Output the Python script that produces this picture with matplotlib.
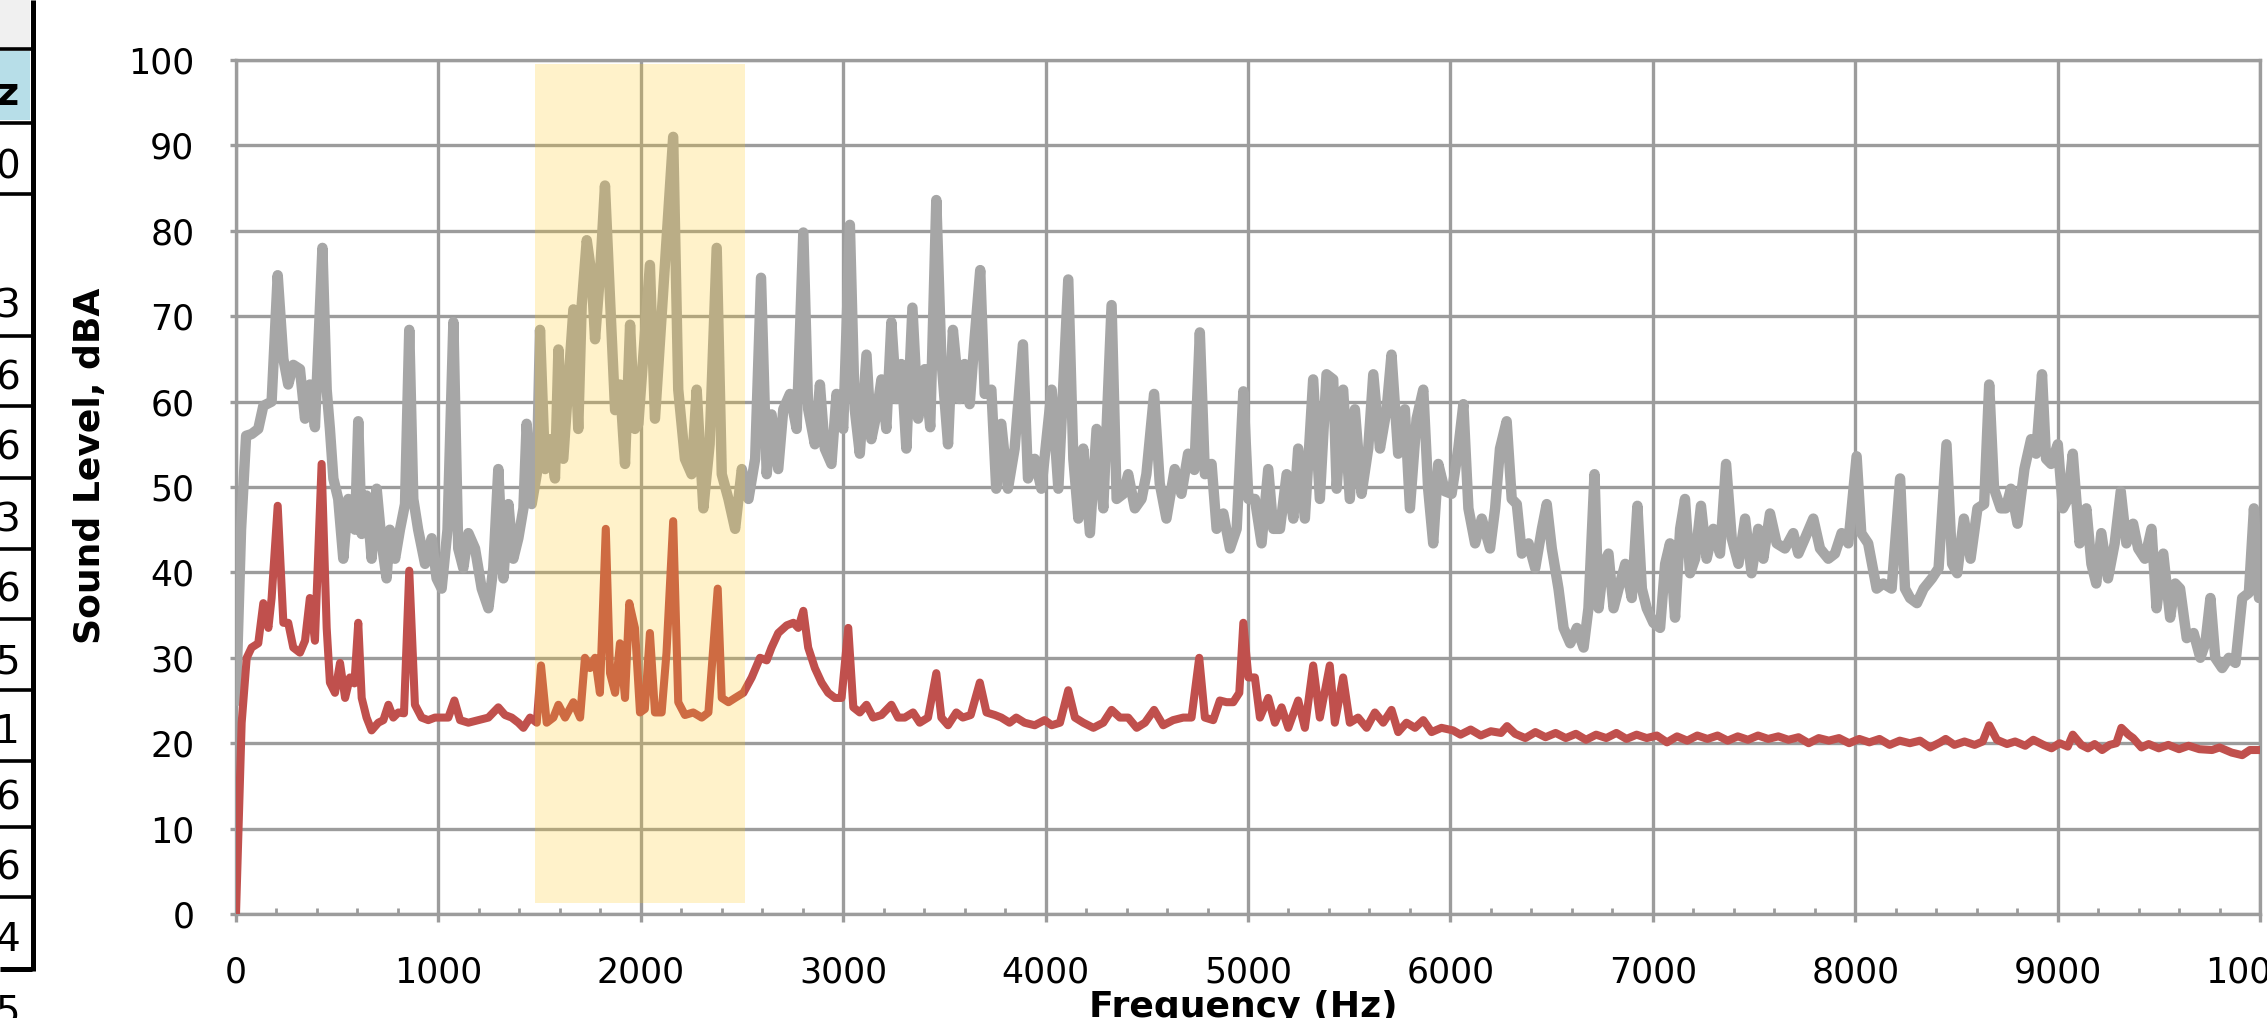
import matplotlib
matplotlib.use("Agg")
import matplotlib.pyplot as plt
from matplotlib.patches import Rectangle

# ---------------- data ----------------
gray_hz = [0, 25, 50, 77, 110, 135, 176, 206, 234, 258, 283, 316, 341, 365, 390, 427, 448, 464, 481, 505,
           530, 555, 588, 604, 621, 645, 670, 695, 720, 744, 760, 786, 810, 835, 856, 876, 900, 934, 967, 991,
           1016, 1045, 1074, 1098, 1123, 1148, 1181, 1214, 1247, 1271, 1296, 1321, 1346, 1370, 1395, 1420, 1436, 1461, 1486, 1502,
           1527, 1551, 1576, 1593, 1617, 1642, 1667, 1691, 1708, 1733, 1757, 1774, 1798, 1823, 1848, 1873, 1897, 1922, 1947, 1971,
           1988, 2045, 2070, 2111, 2160, 2185, 2218, 2251, 2276, 2309, 2340, 2375, 2400, 2433, 2466, 2499, 2532, 2565, 2594, 2622,
           2646, 2679, 2704, 2737, 2770, 2803, 2827, 2860, 2885, 2909, 2942, 2967, 3000, 3033, 3057, 3082, 3115, 3139, 3164, 3189,
           3213, 3238, 3263, 3287, 3312, 3342, 3370, 3403, 3430, 3460, 3485, 3518, 3542, 3575, 3600, 3625, 3649, 3677, 3699, 3732,
           3756, 3781, 3814, 3847, 3888, 3913, 3946, 3979, 4030, 4063, 4112, 4137, 4162, 4186, 4219, 4252, 4285, 4326, 4351, 4384,
           4408, 4441, 4474, 4498, 4536, 4564, 4597, 4638, 4671, 4704, 4735, 4762, 4787, 4820, 4845, 4878, 4911, 4944, 4977, 5002,
           5034, 5067, 5100, 5125, 5158, 5191, 5224, 5248, 5281, 5322, 5355, 5388, 5421, 5438, 5470, 5503, 5528, 5561, 5594, 5619,
           5652, 5685, 5709, 5742, 5775, 5800, 5833, 5866, 5890, 5915, 5940, 5973, 6006, 6039, 6064, 6089, 6122, 6155, 6196, 6221,
           6245, 6278, 6303, 6328, 6353, 6386, 6419, 6452, 6476, 6501, 6534, 6559, 6592, 6625, 6658, 6682, 6712, 6732, 6757, 6781,
           6806, 6831, 6864, 6896, 6924, 6946, 6970, 7003, 7036, 7061, 7085, 7110, 7135, 7159, 7184, 7209, 7238, 7266, 7299, 7332,
           7362, 7390, 7423, 7456, 7488, 7521, 7546, 7579, 7612, 7653, 7694, 7719, 7752, 7793, 7826, 7867, 7900, 7933, 7966, 8007,
           8030, 8064, 8106, 8139, 8180, 8222, 8246, 8271, 8305, 8338, 8379, 8412, 8451, 8479, 8504, 8537, 8570, 8604, 8637, 8662,
           8686, 8719, 8744, 8769, 8802, 8836, 8869, 8894, 8923, 8943, 8968, 9001, 9026, 9051, 9075, 9109, 9142, 9167, 9191, 9216,
           9249, 9282, 9312, 9340, 9373, 9398, 9431, 9464, 9489, 9522, 9556, 9581, 9605, 9638, 9672, 9705, 9730, 9755, 9779, 9813,
           9846, 9879, 9912, 9945, 9970, 9995, 10000]
gray_db = [25, 45, 56, 56.2, 56.8, 59.5, 60, 74.8, 65, 62, 64.3, 63.8, 58, 62, 57, 78, 61.4, 56.8, 51, 48.6,
           41.6, 48.6, 45, 57.7, 44.5, 49, 41.6, 49.8, 43.4, 39.3, 45, 41.6, 45, 48, 68.4, 48.6, 45, 41, 44, 39.3,
           38.1, 45, 69.3, 42.8, 40.5, 44.6, 42.8, 38.1, 35.8, 40.5, 52.1, 39.3, 48, 41.6, 44, 47.5, 57.4, 48, 51.5, 68.4,
           52.1, 55.6, 51, 66.1, 53.3, 62, 70.8, 56.8, 71.3, 78.9, 74.8, 67.3, 74.8, 85.3, 72, 59, 62, 52.7, 69, 56.8,
           57.4, 76, 58, 73, 91, 61.4, 53.3, 51.5, 61.4, 47.5, 55, 78, 51.5, 48.6, 45.1, 52.1, 48.6, 53.3, 74.5, 51.5,
           58.5, 52.1, 59.1, 60.9, 56.8, 79.8, 59.1, 55, 62, 54.5, 52.7, 60.9, 56.8, 80.7, 59.1, 53.9, 65.5, 55.6, 58.5, 62.6,
           56.8, 69.3, 60.3, 64.4, 54.5, 71, 58, 63.8, 57, 83.6, 65, 55, 68.4, 60.3, 64.4, 59.7, 67.3, 75.4, 60.9, 61.4,
           49.8, 57.4, 49.8, 54.5, 66.7, 51, 53.3, 49.8, 61.4, 49.8, 74.3, 53.3, 46.3, 54.5, 44.6, 56.8, 47.5, 71.3, 48.6, 49.2,
           51.5, 47.5, 48.6, 51.5, 60.9, 50.4, 46.3, 52.1, 49.2, 53.9, 52, 68.1, 51.5, 52.7, 45.1, 46.9, 42.8, 45.1, 61.2, 48.6,
           48.6, 43.4, 52.1, 45.1, 45.1, 51.5, 46.3, 54.5, 46.3, 62.6, 48.6, 63.2, 62.6, 49.8, 61.4, 48.6, 59.1, 49.2, 54.5, 63.2,
           54.5, 59.1, 65.5, 53.9, 59.1, 47.5, 58, 61.4, 49.8, 43.4, 52.7, 49.5, 49.2, 54.5, 59.7, 47.5, 43.4, 46.3, 42.8, 47.5,
           54.5, 57.7, 48.6, 48, 42.2, 43.4, 40.5, 45.1, 48, 42.8, 38.1, 33.5, 31.7, 33.5, 31.2, 35.8, 51.5, 35.8, 41, 42.2,
           35.8, 38.1, 41, 37, 47.8, 38.1, 35.8, 34.1, 33.5, 41, 43.4, 34.7, 45.1, 48.6, 39.9, 41.6, 47.8, 41.6, 45.1, 42.2,
           52.7, 44, 41, 46.3, 39.9, 45.1, 41.6, 46.9, 43.4, 42.8, 44.6, 42.2, 44, 46.3, 42.8, 41.6, 42.2, 44.6, 43.4, 53.6,
           44.6, 43.4, 38.1, 38.7, 38.1, 51, 38.1, 37, 36.4, 38.1, 39.3, 40.5, 55, 41, 39.9, 46.3, 41.6, 47.5, 48, 62,
           49.8, 47.5, 47.5, 49.8, 45.7, 52.1, 55.6, 53.9, 63.2, 53.3, 52.7, 55, 47.5, 48.6, 53.9, 43.4, 47.5, 41, 38.7, 44.6,
           39.3, 43.4, 49.5, 43.4, 45.7, 42.8, 41.6, 45.1, 35.8, 42.2, 34.7, 38.7, 38.1, 32.3, 32.9, 30, 31.7, 37, 30, 28.8,
           30, 29.4, 37, 37.6, 47.5, 37, 37]

red_hz = [0, 28, 53, 77, 110, 135, 160, 176, 206, 234, 258, 283, 316, 341, 365, 390, 423, 448, 464, 489,
          514, 539, 563, 585, 604, 621, 645, 670, 703, 728, 753, 777, 802, 830, 856, 884, 917, 950, 983, 1016,
          1049, 1079, 1107, 1148, 1197, 1247, 1296, 1329, 1362, 1395, 1420, 1453, 1486, 1507, 1535, 1568, 1593, 1626, 1667, 1700,
          1724, 1749, 1774, 1798, 1827, 1848, 1873, 1897, 1922, 1943, 1971, 1996, 2020, 2045, 2070, 2103, 2127, 2160, 2185, 2218,
          2259, 2301, 2334, 2380, 2400, 2433, 2466, 2507, 2548, 2589, 2622, 2646, 2679, 2721, 2754, 2778, 2803, 2827, 2860, 2893,
          2926, 2959, 2992, 3025, 3050, 3082, 3115, 3148, 3189, 3238, 3271, 3304, 3345, 3378, 3419, 3460, 3485, 3518, 3559, 3591,
          3630, 3675, 3708, 3749, 3781, 3822, 3855, 3896, 3946, 3995, 4030, 4071, 4112, 4145, 4186, 4236, 4285, 4326, 4367, 4408,
          4450, 4491, 4536, 4581, 4630, 4680, 4721, 4759, 4787, 4828, 4861, 4894, 4927, 4957, 4977, 5002, 5034, 5059, 5100, 5133,
          5166, 5199, 5248, 5281, 5322, 5355, 5404, 5429, 5470, 5503, 5544, 5586, 5627, 5668, 5709, 5742, 5783, 5825, 5866, 5907,
          5956, 6013, 6050, 6100, 6150, 6200, 6250, 6280, 6320, 6370, 6420, 6470, 6520, 6570, 6620, 6670, 6720, 6770, 6820, 6870,
          6920, 6970, 7020, 7070, 7120, 7170, 7220, 7270, 7320, 7370, 7420, 7470, 7520, 7570, 7620, 7670, 7720, 7770, 7820, 7870,
          7920, 7970, 8020, 8070, 8120, 8170, 8220, 8270, 8320, 8370, 8420, 8447, 8490, 8540, 8590, 8630, 8662, 8700, 8750, 8790,
          8840, 8880, 8930, 8970, 9010, 9050, 9075, 9117, 9150, 9183, 9220, 9257, 9290, 9315, 9350, 9373, 9414, 9450, 9500, 9547,
          9600, 9647, 9700, 9763, 9800, 9860, 9912, 9950, 10000]
red_db = [0, 22.4, 30, 31.2, 31.7, 36.4, 33.5, 37, 47.8, 34.1, 34.1, 31.2, 30.6, 32, 37, 32, 52.7, 33.5, 27.1, 25.9,
          29.4, 25.3, 27.7, 27, 34.1, 25.3, 23, 21.5, 22.4, 22.7, 24.5, 23, 23.6, 23.5, 40.2, 24.5, 23, 22.7, 23, 23,
          23, 25, 22.7, 22.4, 22.7, 23, 24.2, 23.3, 23, 22.4, 21.8, 23, 22.4, 29.1, 22.4, 23, 24.5, 23, 24.8, 23,
          30, 28.8, 30, 25.9, 45.1, 28.2, 25.9, 31.7, 25.3, 36.4, 33.5, 23.6, 24, 32.9, 23.6, 23.6, 30.6, 46, 24.8, 23.3,
          23.6, 23, 23.6, 38.1, 25.3, 24.8, 25.3, 25.9, 27.7, 30, 29.7, 31.2, 32.9, 33.8, 34.1, 33.5, 35.5, 31.2, 28.8, 27.1,
          25.9, 25.3, 25.3, 33.5, 24.2, 23.6, 24.5, 23, 23.3, 24.5, 23, 23, 23.6, 22.4, 23, 28.2, 23, 22.1, 23.6, 23,
          23.3, 27.1, 23.6, 23.3, 23, 22.4, 23, 22.4, 22.1, 22.7, 22.1, 22.4, 26.2, 23, 22.4, 21.8, 22.4, 23.9, 23, 23,
          21.8, 22.4, 23.9, 22.1, 22.7, 23, 23, 30, 23, 22.7, 25, 24.8, 24.8, 25.9, 34.1, 27.7, 27.7, 23, 25.3, 22.4,
          24.2, 21.8, 25, 21.8, 29.1, 23, 29.1, 22.4, 27.7, 22.4, 23, 21.8, 23.6, 22.4, 23.9, 21.3, 22.4, 21.8, 22.7, 21.3,
          21.8, 21.5, 21.0, 21.6, 20.9, 21.4, 21.2, 22.0, 21.1, 20.6, 21.3, 20.7, 21.2, 20.6, 21.1, 20.4, 21.0, 20.6, 21.2, 20.5,
          21.0, 20.6, 20.9, 20.1, 20.8, 20.3, 20.9, 20.5, 20.9, 20.3, 20.8, 20.4, 20.9, 20.5, 20.8, 20.4, 20.7, 20.0, 20.6, 20.3,
          20.6, 20.0, 20.5, 20.1, 20.5, 19.8, 20.3, 20.0, 20.3, 19.5, 20.1, 20.5, 19.8, 20.2, 19.8, 20.2, 22.1, 20.4, 19.9, 20.2,
          19.7, 20.4, 19.8, 19.4, 20.0, 19.6, 21.0, 19.8, 19.4, 19.9, 19.2, 19.8, 20.0, 21.8, 21.0, 20.6, 19.5, 19.9, 19.4, 19.8,
          19.3, 19.7, 19.3, 19.2, 19.5, 18.9, 18.6, 19.2, 19.2]

highlight_hz = [1478, 2515]      # shaded band
highlight_db = [1.3, 99.5]

x_ticks = list(range(0, 10001, 1000))
x_labels = [str(v) for v in x_ticks]
y_ticks = list(range(0, 101, 10))
y_labels = [str(v) for v in y_ticks]

# partial spreadsheet column visible at the left edge
table_rows = [(51, 120), (125, 193), (196, 333), (338, 404), (408, 475), (480, 546), (551, 617),
              (621, 688), (692, 758), (763, 825), (829, 895), (899, 966), (971, 1040)]
table_text = ["Hz", "0", "3", "6", "6", "3", "6", "5", "1", "6", "6", "4", "5"]

W, H = 2267, 1018
GRAY = "#A6A6A6"
RED = "#C0504D"
GRID = "#9C9C9C"

fig = plt.figure(figsize=(W / 100, H / 100), dpi=100)
fig.patch.set_facecolor("white")

# ----- background overlay axes (pixel coordinates) for the table remnant -----
bg = fig.add_axes([0, 0, 1, 1])
bg.set_xlim(0, W)
bg.set_ylim(H, 0)
bg.axis("off")
bg.add_patch(Rectangle((0, 0), 30, 47, facecolor="#F0F0F0", edgecolor="none"))
bg.add_patch(Rectangle((0, 51), 30, 69, facecolor="#B7DEE8", edgecolor="none"))
for (top, bot) in table_rows[:-1]:
    bg.plot([0, 32], [top - 2, top - 2], color="black", lw=2.6, solid_capstyle="butt")
bg.plot([0, 32], [968.5, 968.5], color="black", lw=3.6, solid_capstyle="butt")
bg.plot([32.5, 32.5], [0, 971], color="black", lw=3.6, solid_capstyle="butt")
for (top, bot), t in zip(table_rows, table_text):
    base = bot - 15 if bot < 1000 else 1024
    bg.text(20, base, t, ha="right", va="baseline", fontsize=28,
            family="DejaVu Sans", color="black",
            fontweight="bold" if t == "Hz" else "normal")

# ----- main chart -----
ax = fig.add_axes([236 / W, (H - 914) / H, (2260 - 236) / W, (914 - 60) / H])
ax.set_facecolor("none")
ax.set_xlim(0, 10000)
ax.set_ylim(0, 100)

ax.plot(gray_hz, gray_db, color=GRAY, lw=7.5, solid_joinstyle="round", zorder=3)
ax.plot(red_hz, red_db, color=RED, lw=5.8, solid_joinstyle="round", zorder=4)

ax.add_patch(Rectangle((highlight_hz[0], highlight_db[0]),
                       highlight_hz[1] - highlight_hz[0], highlight_db[1] - highlight_db[0],
                       facecolor=(1.0, 0.784, 0.118), alpha=0.23, edgecolor="none", zorder=6))

ax.set_xticks(x_ticks)
ax.set_xticklabels(x_labels)
ax.set_yticks(y_ticks)
ax.set_yticklabels(y_labels)
ax.set_xticks(list(range(0, 10001, 200)), minor=True)

ax.grid(True, which="major", color=GRID, lw=2.4, zorder=1)
ax.set_axisbelow(True)
for s in ax.spines.values():
    s.set_color(GRID)
    s.set_linewidth(2.4)

ax.tick_params(axis="x", which="major", direction="out", length=6, width=2.4, color=GRID,
               pad=24, labelsize=25)
ax.tick_params(axis="x", which="minor", direction="in", length=4, width=2.0, color=GRID)
ax.tick_params(axis="y", which="major", direction="out", length=4, width=2.4, color=GRID,
               pad=26, labelsize=25)
for lab in ax.get_xticklabels() + ax.get_yticklabels():
    lab.set_family("DejaVu Sans")
    lab.set_color("black")

fig.text(90 / W, 1 - 466 / H, "Sound Level, dBA", rotation=90, ha="center", va="center",
         fontsize=26, fontweight="bold", family="DejaVu Sans", color="black")
fig.text(1243 / W, 1 - 990 / H, "Frequency (Hz)", ha="center", va="top",
         fontsize=26, fontweight="bold", family="DejaVu Sans", color="black")

fig.savefig("out.png", dpi=100, facecolor="white")
